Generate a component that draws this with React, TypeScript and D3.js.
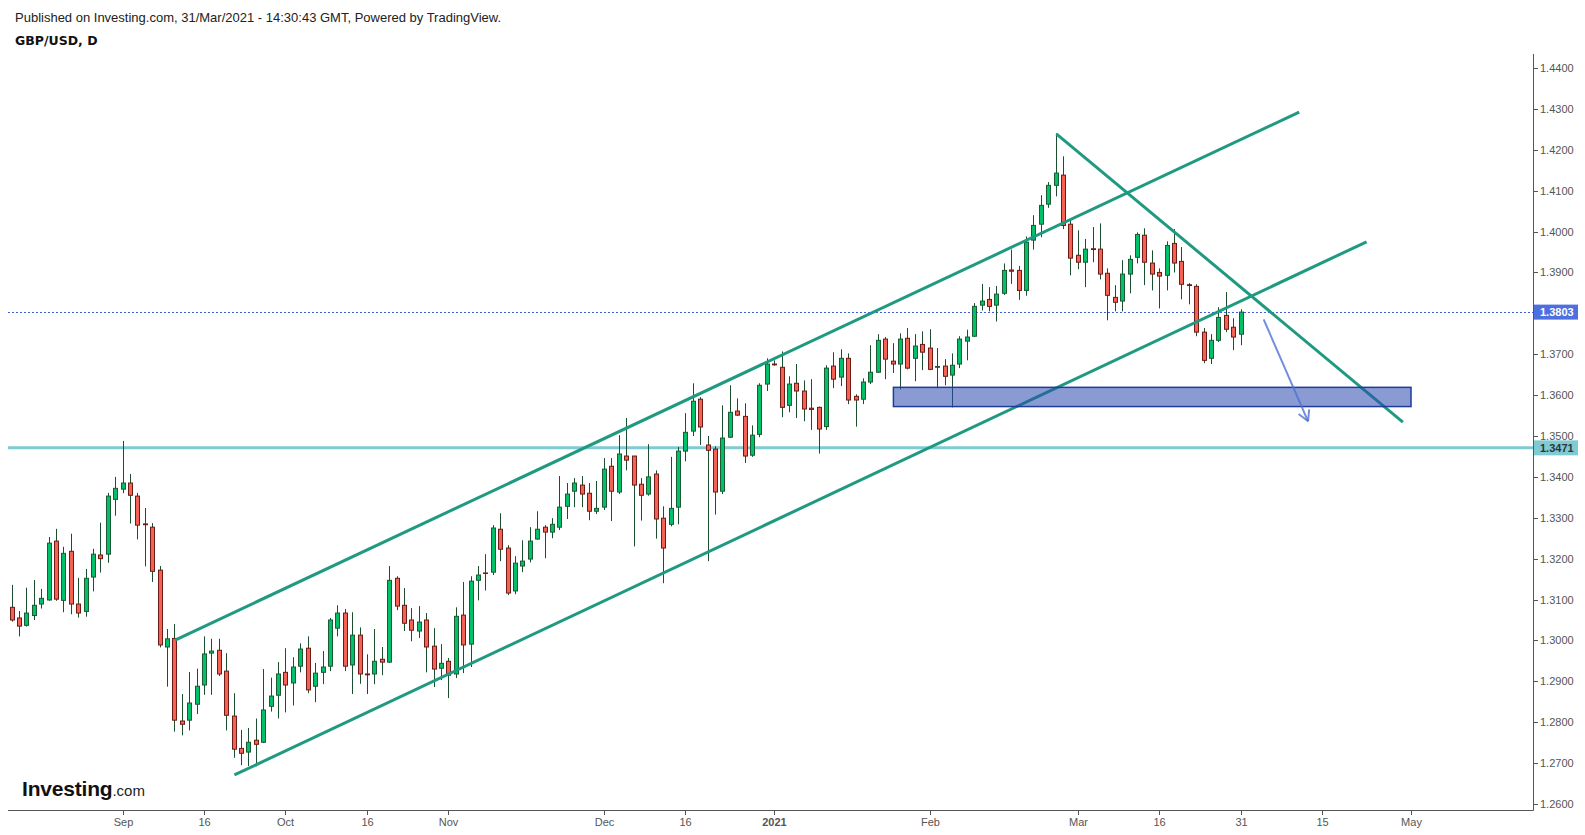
import React, { useEffect, useRef } from 'react';
import * as d3 from 'd3';

// GBP/USD daily, first bar 11 Aug 2020, weekdays only
const firstBar = new Date(2020, 7, 11);

const opens = [
  1.3081, 1.3055, 1.3037, 1.3061, 1.3089, 1.3099, 1.3243, 1.3098, 1.3218, 1.3089,
  1.3071, 1.3155, 1.3209, 1.3211, 1.3345, 1.3370, 1.3385, 1.3353, 1.3285, 1.3277,
  1.3172, 1.2984, 1.3005, 1.2803, 1.2805, 1.2844, 1.2891, 1.2969, 1.2976, 1.2925,
  1.2815, 1.2736, 1.2727, 1.2756, 1.2751, 1.2839, 1.2866, 1.2922, 1.2896, 1.2937,
  1.2981, 1.2888, 1.2922, 1.2937, 1.3030, 1.3067, 1.2940, 1.3013, 1.2918, 1.2918,
  1.2954, 1.2947, 1.3152, 1.3086, 1.3050, 1.3023, 1.3050, 1.2986, 1.2932, 1.2949,
  1.2918, 1.3062, 1.2991, 1.3147, 1.3165, 1.3167, 1.3272, 1.3226, 1.3121, 1.3182,
  1.3199, 1.3248, 1.3277, 1.3265, 1.3277, 1.3328, 1.3365, 1.3380, 1.3360, 1.3316,
  1.3326, 1.3426, 1.3363, 1.3451, 1.3451, 1.3382, 1.3358, 1.3407, 1.3299, 1.3284,
  1.3326, 1.3463, 1.3512, 1.3590, 1.3478, 1.3468, 1.3365, 1.3497, 1.3561, 1.3548,
  1.3453, 1.3504, 1.3627, 1.3676, 1.3668, 1.3575, 1.3629, 1.3610, 1.3568, 1.3570,
  1.3523, 1.3671, 1.3644, 1.3690, 1.3597, 1.3590, 1.3632, 1.3656, 1.3737, 1.3683,
  1.3676, 1.3739, 1.3690, 1.3724, 1.3715, 1.3668, 1.3671, 1.3649, 1.3676, 1.3732,
  1.3744, 1.3820, 1.3834, 1.3820, 1.3849, 1.3906, 1.3905, 1.3856, 1.3979, 1.4018,
  1.4067, 1.4113, 1.4138, 1.4018, 1.3942, 1.3925, 1.3958, 1.3957, 1.3898, 1.3839,
  1.3830, 1.3896, 1.3937, 1.3991, 1.3923, 1.3900, 1.3893, 1.3971, 1.3927, 1.3870,
  1.3866, 1.3754, 1.3690, 1.3734, 1.3795, 1.3766, 1.3749,
];
const highs = [
  1.3136, 1.3072, 1.3129, 1.3148, 1.3126, 1.3253, 1.3273, 1.3229, 1.3261, 1.3153,
  1.3175, 1.3224, 1.3288, 1.3361, 1.3400, 1.3488, 1.3407, 1.3361, 1.3324, 1.3287,
  1.3182, 1.3028, 1.3040, 1.2869, 1.2923, 1.2931, 1.3010, 1.3004, 1.3004, 1.2969,
  1.2871, 1.2781, 1.2786, 1.2809, 1.2930, 1.2909, 1.2947, 1.2981, 1.2959, 1.2993,
  1.3010, 1.2945, 1.2974, 1.3055, 1.3086, 1.3077, 1.3069, 1.3032, 1.2966, 1.3028,
  1.2984, 1.3182, 1.3157, 1.3128, 1.3079, 1.3084, 1.3067, 1.3030, 1.2991, 1.2957,
  1.3081, 1.3143, 1.3157, 1.3182, 1.3211, 1.3282, 1.3311, 1.3233, 1.3206, 1.3245,
  1.3277, 1.3316, 1.3282, 1.3299, 1.3402, 1.3385, 1.3397, 1.3402, 1.3385, 1.3390,
  1.3446, 1.3446, 1.3502, 1.3544, 1.3451, 1.3397, 1.3480, 1.3416, 1.3328, 1.3449,
  1.3473, 1.3556, 1.3629, 1.3595, 1.3500, 1.3475, 1.3575, 1.3624, 1.3592, 1.3580,
  1.3526, 1.3629, 1.3690, 1.3685, 1.3707, 1.3646, 1.3676, 1.3636, 1.3639, 1.3572,
  1.3673, 1.3705, 1.3712, 1.3702, 1.3602, 1.3641, 1.3722, 1.3749, 1.3742, 1.3727,
  1.3751, 1.3764, 1.3749, 1.3756, 1.3761, 1.3715, 1.3688, 1.3702, 1.3744, 1.3760,
  1.3825, 1.3872, 1.3864, 1.3867, 1.3922, 1.3956, 1.3916, 1.3988, 1.4040, 1.4089,
  1.4121, 1.4240, 1.4184, 1.4028, 1.4003, 1.3982, 1.4011, 1.4020, 1.3910, 1.3869,
  1.3930, 1.3942, 1.3998, 1.4008, 1.3954, 1.3910, 1.3976, 1.4006, 1.3962, 1.3874,
  1.3871, 1.3764, 1.3749, 1.3815, 1.3852, 1.3788, 1.3810,
];
const lows = [
  1.3046, 1.3010, 1.3034, 1.3050, 1.3078, 1.3097, 1.3097, 1.3069, 1.3064, 1.3056,
  1.3058, 1.3120, 1.3166, 1.3190, 1.3305, 1.3360, 1.3286, 1.3247, 1.3181, 1.3143,
  1.2983, 1.2887, 1.2777, 1.2768, 1.2780, 1.2820, 1.2867, 1.2867, 1.2913, 1.2780,
  1.2713, 1.2695, 1.2693, 1.2692, 1.2749, 1.2826, 1.2809, 1.2824, 1.2841, 1.2922,
  1.2871, 1.2849, 1.2893, 1.2925, 1.3010, 1.2925, 1.2869, 1.2894, 1.2869, 1.2893,
  1.2915, 1.2945, 1.3074, 1.3023, 1.2998, 1.3006, 1.2922, 1.2886, 1.2903, 1.2859,
  1.2908, 1.2920, 1.2935, 1.3098, 1.3122, 1.3160, 1.3194, 1.3111, 1.3113, 1.3167,
  1.3191, 1.3246, 1.3201, 1.3250, 1.3270, 1.3297, 1.3326, 1.3326, 1.3294, 1.3309,
  1.3319, 1.3292, 1.3358, 1.3416, 1.3230, 1.3293, 1.3354, 1.3249, 1.3140, 1.3279,
  1.3284, 1.3438, 1.3500, 1.3478, 1.3194, 1.3308, 1.3358, 1.3495, 1.3549, 1.3434,
  1.3449, 1.3497, 1.3610, 1.3672, 1.3546, 1.3558, 1.3544, 1.3536, 1.3515, 1.3457,
  1.3515, 1.3617, 1.3622, 1.3578, 1.3523, 1.3578, 1.3627, 1.3654, 1.3639, 1.3654,
  1.3614, 1.3663, 1.3634, 1.3661, 1.3661, 1.3617, 1.3624, 1.3570, 1.3666, 1.3685,
  1.3742, 1.3807, 1.3805, 1.3780, 1.3845, 1.3872, 1.3833, 1.3843, 1.3956, 1.3986,
  1.4058, 1.4086, 1.4006, 1.3893, 1.3908, 1.3864, 1.3925, 1.3883, 1.3783, 1.3805,
  1.3805, 1.3849, 1.3922, 1.3869, 1.3856, 1.3812, 1.3856, 1.3900, 1.3834, 1.3822,
  1.3744, 1.3678, 1.3676, 1.3730, 1.3754, 1.3710, 1.3722,
];
const closes = [
  1.3050, 1.3035, 1.3067, 1.3086, 1.3103, 1.3238, 1.3101, 1.3213, 1.3089, 1.3067,
  1.3152, 1.3211, 1.3200, 1.3353, 1.3372, 1.3385, 1.3355, 1.3282, 1.3283, 1.3169,
  1.2989, 1.3004, 1.2805, 1.2795, 1.2847, 1.2888, 1.2967, 1.2974, 1.2918, 1.2817,
  1.2734, 1.2724, 1.2751, 1.2746, 1.2830, 1.2864, 1.2918, 1.2891, 1.2935, 1.2979,
  1.2879, 1.2920, 1.2935, 1.3050, 1.3067, 1.2937, 1.3013, 1.2918, 1.2916, 1.2949,
  1.2947, 1.3147, 1.3084, 1.3042, 1.3025, 1.3045, 1.2984, 1.2930, 1.2944, 1.2915,
  1.3059, 1.2989, 1.3145, 1.3160, 1.3164, 1.3275, 1.3223, 1.3116, 1.3189, 1.3194,
  1.3243, 1.3272, 1.3265, 1.3284, 1.3326, 1.3358, 1.3385, 1.3358, 1.3316, 1.3323,
  1.3419, 1.3365, 1.3456, 1.3441, 1.3380, 1.3355, 1.3400, 1.3297, 1.3226, 1.3323,
  1.3463, 1.3509, 1.3585, 1.3522, 1.3465, 1.3363, 1.3495, 1.3558, 1.3551, 1.3451,
  1.3502, 1.3624, 1.3676, 1.3674, 1.3570, 1.3627, 1.3610, 1.3566, 1.3565, 1.3517,
  1.3666, 1.3639, 1.3690, 1.3588, 1.3588, 1.3632, 1.3656, 1.3734, 1.3688, 1.3676,
  1.3737, 1.3666, 1.3720, 1.3705, 1.3663, 1.3670, 1.3646, 1.3673, 1.3737, 1.3742,
  1.3817, 1.3830, 1.3817, 1.3847, 1.3905, 1.3903, 1.3856, 1.3974, 1.4015, 1.4064,
  1.4113, 1.4143, 1.4015, 1.3935, 1.3925, 1.3957, 1.3956, 1.3896, 1.3844, 1.3827,
  1.3896, 1.3932, 1.3993, 1.3925, 1.3896, 1.3891, 1.3966, 1.3923, 1.3871, 1.3868,
  1.3754, 1.3685, 1.3734, 1.3790, 1.3761, 1.3742, 1.3803,
];

const priceTicks = [
  1.26, 1.27, 1.28, 1.29, 1.30, 1.31, 1.32, 1.33, 1.34, 1.35,
  1.36, 1.37, 1.38, 1.39, 1.40, 1.41, 1.42, 1.43, 1.44,
];
const timeTickDates = [
  '2020-09-01', '2020-09-16', '2020-10-01', '2020-10-16', '2020-11-02', '2020-12-01', '2020-12-16',
  '2021-01-01', '2021-02-01', '2021-03-01', '2021-03-16', '2021-03-31', '2021-04-15', '2021-05-03',
];
const timeTickLabels = ['Sep', '16', 'Oct', '16', 'Nov', 'Dec', '16', '2021', 'Feb', 'Mar', '16', '31', '15', 'May'];

const lastPrice = 1.3803;
const supportLevel = 1.3471;

// drawings, anchored as [bar index, price]
const upperChannel = [[22.1, 1.3001], [173.9, 1.4292]];
const lowerChannel = [[30.1, 1.2671], [183.0, 1.3975]];
const fallingLine = [[141.1, 1.4239], [187.9, 1.3534]];
const supportZone = [[119.1, 1.3619], [189.0, 1.3572]];
const arrowLine = [[169.1, 1.3785], [175.1, 1.3536]];

const W = 1585;
const H = 835;
const plotLeft = 8;
const plotRight = 1533;
const plotBottom = 810;
const font = '"Liberation Sans", Arial, sans-serif';

const GREEN = '#00c069';
const GREEN_EDGE = '#1b5a33';
const RED = '#f46155';
const RED_EDGE = '#6e1b16';
const WICK = '#1c4f30';
const TEAL = '#1f9a80';

const App = () => {
  const svgRef = useRef<SVGSVGElement>(null);

  useEffect(() => {
    document.body.style.margin = '0';
    const parse = d3.timeParse('%Y-%m-%d');
    const weekdayIndex = (d: Date) =>
      d3.timeDay.range(firstBar, d).filter((t) => t.getDay() % 6 !== 0).length;

    const x = d3.scaleLinear().domain([0, 166]).range([11.5, 1240.7]);
    const y = d3.scaleLinear().domain([1.26, 1.44]).range([804, 68]);

    const svg = d3.select(svgRef.current);
    svg.selectAll('*').remove();

    svg.append('rect').attr('width', W).attr('height', H).attr('fill', '#fff');

    svg.append('defs').append('clipPath').attr('id', 'plot')
      .append('rect').attr('x', plotLeft).attr('y', 50)
      .attr('width', plotRight - plotLeft).attr('height', plotBottom - 50);

    // header
    svg.append('text').attr('x', 15).attr('y', 22)
      .style('font-family', font).style('font-size', '13px').attr('fill', '#222')
      .text('Published on Investing.com, 31/Mar/2021 - 14:30:43 GMT, Powered by TradingView.');
    svg.append('text').attr('x', 15).attr('y', 45)
      .style('font-family', '"DejaVu Sans", Verdana, sans-serif').style('font-size', '12.5px')
      .style('font-weight', 'bold').attr('fill', '#111')
      .text('GBP/USD, D');

    const plot = svg.append('g').attr('clip-path', 'url(#plot)');

    // horizontal levels
    plot.append('line')
      .attr('x1', plotLeft).attr('x2', plotRight)
      .attr('y1', y(supportLevel)).attr('y2', y(supportLevel))
      .attr('stroke', '#7ecbd3').attr('stroke-width', 3);
    plot.append('line')
      .attr('x1', plotLeft).attr('x2', plotRight)
      .attr('y1', Math.round(y(lastPrice)) + 0.5).attr('y2', Math.round(y(lastPrice)) + 0.5)
      .attr('stroke', '#3d5fd8').attr('stroke-width', 1).attr('stroke-dasharray', '2,2');

    // candles
    const bars = d3.range(opens.length);
    const candle = plot.selectAll('g.candle').data(bars).enter().append('g').attr('class', 'candle');
    candle.append('line')
      .attr('x1', (i) => Math.round(x(i)) + 0.5).attr('x2', (i) => Math.round(x(i)) + 0.5)
      .attr('y1', (i) => y(highs[i])).attr('y2', (i) => y(lows[i]))
      .attr('stroke', WICK).attr('stroke-width', 1);
    candle.append('rect')
      .attr('x', (i) => Math.round(x(i)) - 1.5)
      .attr('width', 4)
      .attr('y', (i) => y(Math.max(opens[i], closes[i])))
      .attr('height', (i) => Math.max(0.5, Math.abs(y(opens[i]) - y(closes[i]))))
      .attr('fill', (i) => (closes[i] >= opens[i] ? GREEN : RED))
      .attr('stroke', (i) => (closes[i] >= opens[i] ? GREEN_EDGE : RED_EDGE))
      .attr('stroke-width', 1);

    // trend lines
    const seg = d3.line<number[]>().x((d) => x(d[0])).y((d) => y(d[1]));
    [upperChannel, lowerChannel, fallingLine].forEach((pts) => {
      plot.append('path').attr('d', seg(pts)).attr('fill', 'none')
        .attr('stroke', TEAL).attr('stroke-width', 3);
    });

    // support zone
    plot.append('rect')
      .attr('x', x(supportZone[0][0])).attr('y', y(supportZone[0][1]))
      .attr('width', x(supportZone[1][0]) - x(supportZone[0][0]))
      .attr('height', y(supportZone[1][1]) - y(supportZone[0][1]))
      .attr('fill', 'rgba(41,72,176,0.55)').attr('stroke', '#1f3c9a').attr('stroke-width', 1.5);

    // arrow
    const [a0, a1] = arrowLine;
    const ax0 = x(a0[0]), ay0 = y(a0[1]), ax1 = x(a1[0]), ay1 = y(a1[1]);
    const ang = Math.atan2(ay1 - ay0, ax1 - ax0);
    const head = 12;
    const arrow = plot.append('g').attr('stroke', 'rgba(80,115,210,0.8)')
      .attr('stroke-width', 2).attr('fill', 'none');
    arrow.append('line').attr('x1', ax0).attr('y1', ay0).attr('x2', ax1).attr('y2', ay1);
    [-0.5, 0.5].forEach((da) => {
      arrow.append('line').attr('x1', ax1).attr('y1', ay1)
        .attr('x2', ax1 - head * Math.cos(ang + da)).attr('y2', ay1 - head * Math.sin(ang + da));
    });

    // axes
    svg.append('line').attr('x1', plotLeft).attr('x2', plotRight + 0.5)
      .attr('y1', plotBottom + 0.5).attr('y2', plotBottom + 0.5)
      .attr('stroke', '#555').attr('stroke-width', 1);
    svg.append('line').attr('x1', plotRight + 0.5).attr('x2', plotRight + 0.5)
      .attr('y1', 54).attr('y2', plotBottom + 0.5)
      .attr('stroke', '#555').attr('stroke-width', 1);

    const yTicks = svg.append('g');
    priceTicks.forEach((p) => {
      const ty = Math.round(y(p)) + 0.5;
      yTicks.append('line').attr('x1', plotRight + 0.5).attr('x2', plotRight + 5)
        .attr('y1', ty).attr('y2', ty).attr('stroke', '#555');
      yTicks.append('text').attr('x', 1540).attr('y', ty).attr('dy', '0.35em')
        .style('font-family', font).style('font-size', '11px').attr('fill', '#555')
        .text(p.toFixed(4));
    });

    const xTicks = svg.append('g');
    timeTickDates.forEach((ds, k) => {
      const tx = Math.round(x(weekdayIndex(parse(ds) as Date))) + 0.5;
      xTicks.append('line').attr('x1', tx).attr('x2', tx)
        .attr('y1', plotBottom + 0.5).attr('y2', plotBottom + 5).attr('stroke', '#555');
      xTicks.append('text').attr('x', tx).attr('y', 826).attr('text-anchor', 'middle')
        .style('font-family', font).style('font-size', '11px')
        .style('font-weight', timeTickLabels[k] === '2021' ? 'bold' : 'normal')
        .attr('fill', '#555').text(timeTickLabels[k]);
    });

    // price tags
    const tag = (p: number, bg: string, fg: string) => {
      const ty = y(p);
      svg.append('rect').attr('x', plotRight + 1).attr('y', ty - 7.5)
        .attr('width', 44).attr('height', 15).attr('fill', bg);
      svg.append('text').attr('x', 1540).attr('y', ty).attr('dy', '0.35em')
        .style('font-family', font).style('font-size', '11px').style('font-weight', 'bold')
        .attr('fill', fg).text(p.toFixed(4));
    };
    tag(supportLevel, '#7ecbd3', '#333');
    tag(lastPrice, '#4d6fe0', '#fff');

    // logo
    const logo = svg.append('text').attr('x', 22).attr('y', 796)
      .style('font-family', font).attr('fill', '#111');
    logo.append('tspan').style('font-size', '21px').style('font-weight', 'bold')
      .style('letter-spacing', '-0.2px').text('Investing');
    logo.append('tspan').style('font-size', '15px').attr('fill', '#222').text('.com');
  }, []);

  return (
    <svg ref={svgRef} width={W} height={H} style={{ display: 'block' }} />
  );
};

export default App;
